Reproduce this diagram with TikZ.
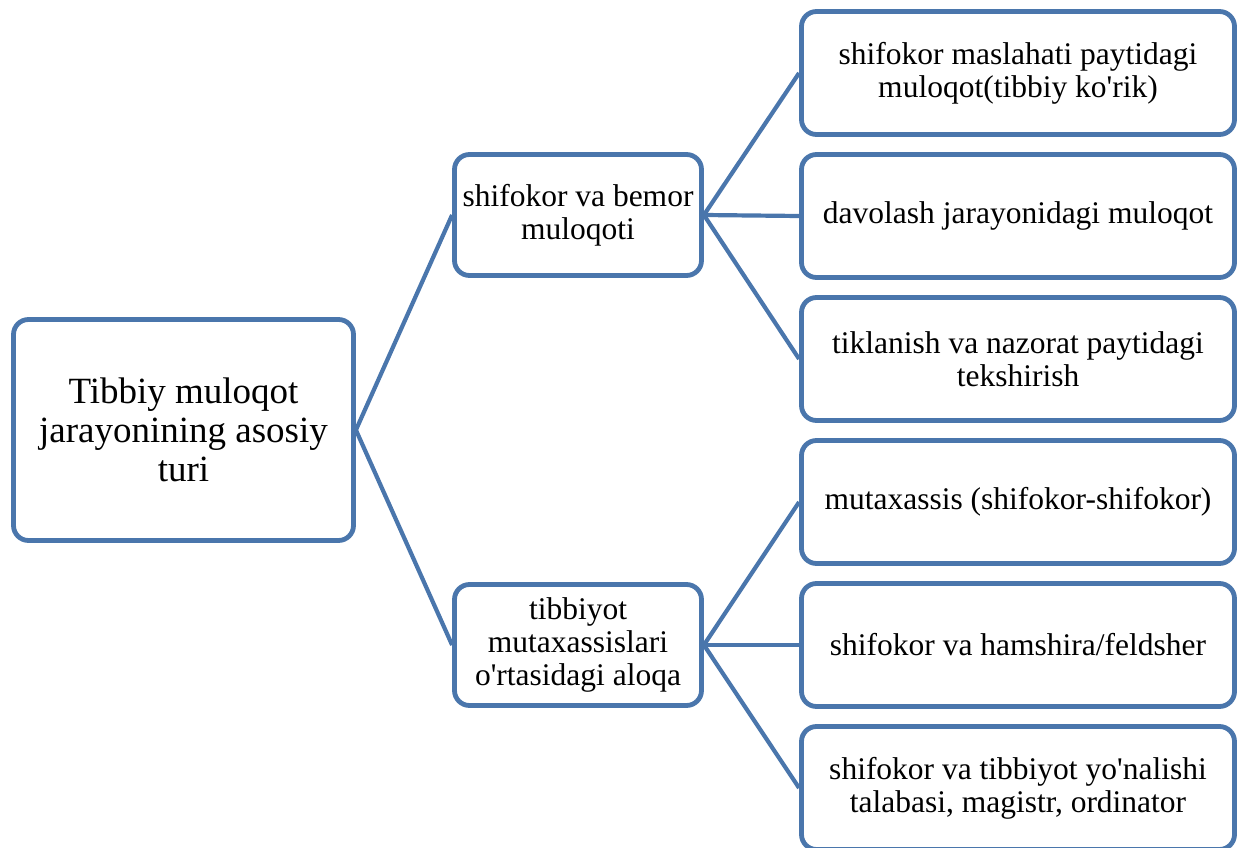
\documentclass[tikz,border=0pt]{standalone}
\usepackage{fontspec}
\setmainfont{Liberation Serif}
\definecolor{boxblue}{RGB}{74,118,172}

\begin{document}
\begin{tikzpicture}[x=1pt,y=-1pt,
	box/.style={draw=boxblue, line width=4.8pt, rounded corners=15pt, fill=white, align=center, inner sep=0pt, font=\fontsize{31.5}{33}\selectfont},
	rootbox/.style={box, minimum width=340pt, minimum height=221pt, font=\fontsize{37}{39}\selectfont},
	midbox/.style={box, minimum width=247pt, minimum height=121pt},
	leafbox/.style={box, minimum width=433pt, minimum height=123pt},
	link/.style={draw=boxblue, line width=4.2pt}]

	\useasboundingbox (0,0) rectangle (1245,848);

	% main type
	\node[rootbox] (root) at (183.5,430) {Tibbiy muloqot\\jarayonining asosiy\\turi};

	% two branches
	\node[midbox] (patient) at (578,215) {shifokor va bemor\\muloqoti};
	\node[midbox] (staff) at (578,645) {tibbiyot\\mutaxassislari\\o\textquotesingle rtasidagi aloqa};

	% leaves
	\node[leafbox] (exam) at (1018,73) {shifokor maslahati paytidagi\\muloqot(tibbiy ko\textquotesingle rik)};
	\node[leafbox] (treat) at (1018,216) {davolash jarayonidagi muloqot};
	\node[leafbox] (recover) at (1018,359) {tiklanish va nazorat paytidagi\\tekshirish};
	\node[leafbox] (expert) at (1018,502) {mutaxassis (shifokor-shifokor)};
	\node[leafbox] (nurse) at (1018,645) {shifokor va hamshira/feldsher};
	\node[leafbox] (student) at (1018,788) {shifokor va tibbiyot yo\textquotesingle nalishi\\talabasi, magistr, ordinator};

	\draw[link] (root.east) -- (patient.west);
	\draw[link] (root.east) -- (staff.west);
	\foreach \leaf in {exam,treat,recover}
		\draw[link] (patient.east) -- (\leaf.west);
	\foreach \leaf in {expert,nurse,student}
		\draw[link] (staff.east) -- (\leaf.west);

\end{tikzpicture}
\end{document}
